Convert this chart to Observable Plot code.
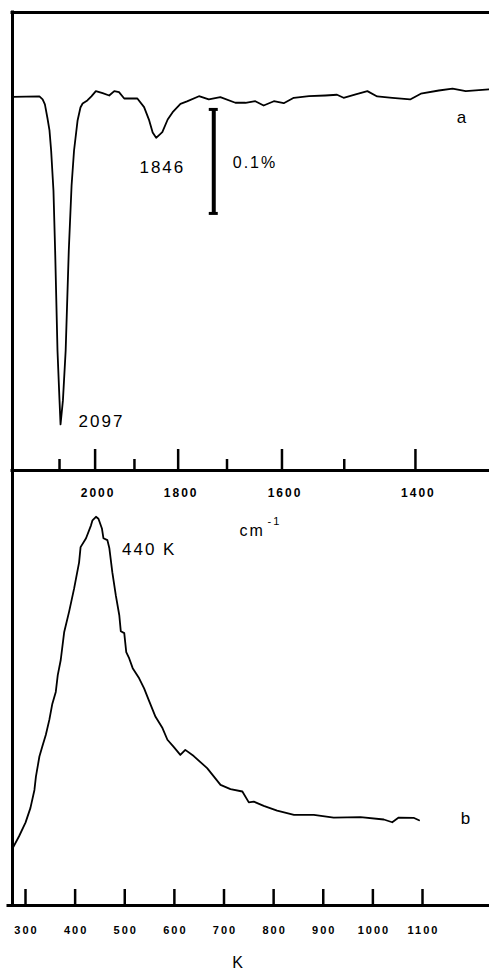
<!DOCTYPE html>
<html>
<head>
<meta charset="utf-8">
<script src="https://cdn.jsdelivr.net/npm/d3@7"></script>
<script src="https://cdn.jsdelivr.net/npm/@observablehq/plot@0.6"></script>
<style>
html, body { margin: 0; padding: 0; background: #fff; }
#wrap { position: relative; width: 489px; height: 969px; overflow: hidden; background: #fff; }
#wrap svg { position: absolute; left: 0; top: 0; }
#wrap text { letter-spacing: 2px; }
</style>
</head>
<body>
<div id="wrap"></div>
<script>
// ---------- Panel a: IR spectrum (cm^-1) ----------
const irWavenumber = [2248, 2161, 2151, 2144, 2136, 2130, 2125, 2118, 2113, 2106, 2100, 2097,
  2090, 2082, 2073, 2065, 2058, 2048, 2040, 2034, 2021, 2010, 1998, 1980, 1963, 1950, 1938,
  1925, 1893, 1877, 1865, 1857, 1849, 1835, 1823, 1812, 1795, 1781, 1756, 1736, 1713, 1684,
  1665, 1647, 1632, 1614, 1597, 1580, 1555, 1529, 1511, 1501, 1483, 1466, 1452, 1431, 1407,
  1393, 1370, 1353, 1337, 1310];
const irSignal = [0.0005, 0.0010, -0.0019, -0.0067, -0.0202, -0.0317, -0.0510, -0.0894, -0.1471,
  -0.2433, -0.2913, -0.3144, -0.2913, -0.2433, -0.1471, -0.0846, -0.0510, -0.0221, -0.0096,
  -0.0058, -0.0029, 0.0010, 0.0061, 0.0041, 0.0019, 0.0061, 0.0051, -0.0010, -0.0010, -0.0093,
  -0.0221, -0.0337, -0.0388, -0.0334, -0.0212, -0.0141, -0.0061, -0.0038, 0.0012, -0.0019,
  0.0003, -0.0051, -0.0051, -0.0036, -0.0077, -0.0036, -0.0055, -0.0003, 0.0012, 0.0019,
  0.0026, -0.0003, 0.0029, 0.0061, 0.0010, -0.0003, -0.0019, 0.0036, 0.0067, 0.0084, 0.0061,
  0.0077];
const irMajorTicks = [2000, 1800, 1600, 1400];
const irMinorTicks = [2100, 1900, 1700, 1500];
const irBandPositions = [2097, 1846];
const irBandLabels = ["2097", "1846"];
const scaleBar = {nu: 1726, top: -0.0115, span: 0.1, label: "0.1%"};

// ---------- Panel b: TPD spectrum (K) ----------
const tpdTemperature = [274, 287, 300, 310, 318, 321, 328, 334, 341, 348, 354, 361, 365, 371,
  378, 388, 398, 408, 411, 422, 432, 435, 442, 447, 454, 457, 465, 469, 475, 482, 489, 492,
  499, 503, 509, 516, 529, 539, 549, 562, 576, 586, 599, 612, 622, 639, 666, 693, 713, 737,
  750, 760, 780, 807, 841, 881, 921, 975, 1022, 1039, 1052, 1083, 1093];
const tpdIntensity = [0.147, 0.178, 0.213, 0.251, 0.297, 0.331, 0.383, 0.409, 0.439, 0.477,
  0.518, 0.549, 0.592, 0.631, 0.703, 0.756, 0.815, 0.882, 0.921, 0.944, 0.977, 0.990, 0.999,
  0.994, 0.969, 0.944, 0.939, 0.918, 0.856, 0.797, 0.746, 0.705, 0.700, 0.651, 0.635, 0.610,
  0.584, 0.558, 0.526, 0.485, 0.456, 0.426, 0.407, 0.387, 0.400, 0.384, 0.353, 0.310, 0.299,
  0.293, 0.265, 0.267, 0.256, 0.244, 0.233, 0.233, 0.226, 0.227, 0.221, 0.214, 0.226, 0.225,
  0.219];
const tpdTicks = [300, 400, 500, 600, 700, 800, 900, 1000, 1100];
const tpdPeakPosition = 440;
const tpdPeakLabel = "440 K";

// ---------- layout ----------
const W = 489, H = 969;
const font = "'Liberation Sans', Arial, Helvetica, sans-serif";
const baseStyle = {fontFamily: font, background: "transparent", overflow: "visible", color: "black"};

const irData = irWavenumber.map((nu, i) => ({nu, t: irSignal[i]}));
const irX = [2248.5, 1309.2];
const irY = [-0.3587, 0.0817];
const nearest = (nu) => irData.reduce((a, b) => Math.abs(b.nu - nu) < Math.abs(a.nu - nu) ? b : a);
const bands = irBandPositions.map((nu, i) => ({nu, t: nearest(nu).t, label: irBandLabels[i]}));

const topPanelTop = 12, topPanelBottom = 470;
const topFrameH = topPanelBottom - topPanelTop;

const plotA = Plot.plot({
  width: W, height: H,
  marginTop: topPanelTop, marginBottom: H - topPanelBottom, marginLeft: 12, marginRight: 0,
  style: baseStyle,
  x: {type: "pow", exponent: -1, domain: irX, axis: null},
  y: {domain: irY, axis: null},
  marks: [
    Plot.ruleY([irY[1]], {strokeWidth: 3, strokeLinecap: "square"}),
    Plot.ruleY([irY[0]], {strokeWidth: 3, strokeLinecap: "square"}),
    Plot.ruleX([irX[0]], {strokeWidth: 3, strokeLinecap: "square"}),
    Plot.ruleX(irMajorTicks, {x: d => d, insetTop: topFrameH - 21, strokeWidth: 2.5}),
    Plot.ruleX(irMinorTicks, {x: d => d, insetTop: topFrameH - 11, strokeWidth: 2.5}),
    Plot.text(irMajorTicks, {x: d => d, frameAnchor: "bottom", lineAnchor: "bottom", dy: 26, dx: 3,
      text: d => String(d), fontSize: 12, fontWeight: "bold"}),
    Plot.line(irData, {x: "nu", y: "t", strokeWidth: 1.8, strokeLinejoin: "round"}),
    Plot.text(bands.slice(0, 1), {x: "nu", y: "t", text: "label", textAnchor: "start", lineAnchor: "bottom",
      dx: 18, dy: 3, fontSize: 17}),
    Plot.text(bands.slice(1), {x: "nu", y: "t", text: "label", textAnchor: "start", lineAnchor: "bottom",
      dx: -18, dy: 35, fontSize: 17}),
    Plot.ruleX([scaleBar], {x: "nu", y1: "top", y2: d => d.top - d.span, strokeWidth: 4}),
    Plot.ruleY([scaleBar.top, scaleBar.top - scaleBar.span], {y: d => d, x1: () => scaleBar.nu, x2: () => scaleBar.nu,
      insetLeft: -4.5, insetRight: -4.5, strokeWidth: 3}),
    Plot.text([scaleBar], {x: "nu", y: d => d.top - d.span / 2, text: "label", textAnchor: "start",
      lineAnchor: "bottom", dx: 19, dy: 7, fontSize: 16}),
    Plot.text(["a"], {frameAnchor: "top-right", textAnchor: "middle", lineAnchor: "bottom", dx: -27, dy: 110, fontSize: 17}),
    Plot.text(["cm"], {frameAnchor: "bottom-left", textAnchor: "start", lineAnchor: "bottom", dx: 227, dy: 65, fontSize: 16}),
    Plot.text(["-1"], {frameAnchor: "bottom-left", textAnchor: "start", lineAnchor: "bottom", dx: 255, dy: 54, fontSize: 11})
  ]
});

const tpdData = tpdTemperature.map((T, i) => ({T, v: tpdIntensity[i]}));
const tpdX = [273.8, 1235];
const tpdY = [0, 1.118];
const peak = {T: tpdPeakPosition, v: d3.max(tpdIntensity), label: tpdPeakLabel};
const botPanelTop = 470, botPanelBottom = 905;
const botFrameH = botPanelBottom - botPanelTop;

const plotB = Plot.plot({
  width: W, height: H,
  marginTop: botPanelTop, marginBottom: H - botPanelBottom, marginLeft: 12, marginRight: 0,
  style: baseStyle,
  x: {domain: tpdX, axis: null},
  y: {domain: tpdY, axis: null},
  marks: [
    Plot.ruleY([tpdY[0]], {strokeWidth: 3, insetLeft: -4, strokeLinecap: "square"}),
    Plot.ruleX([tpdX[0]], {strokeWidth: 3, strokeLinecap: "square"}),
    Plot.ruleX(tpdTicks, {x: d => d, insetTop: botFrameH - 16, strokeWidth: 2.5}),
    Plot.text(tpdTicks, {x: d => d, frameAnchor: "bottom", lineAnchor: "bottom", dy: 28, dx: 1,
      text: d => String(d), fontSize: 11, fontWeight: "bold"}),
    Plot.line(tpdData, {x: "T", y: "v", strokeWidth: 1.8, strokeLinejoin: "round"}),
    Plot.text([peak], {x: "T", y: "v", text: "label", textAnchor: "start", lineAnchor: "bottom",
      dx: 27, dy: 38, fontSize: 17}),
    Plot.text(["b"], {frameAnchor: "bottom-right", textAnchor: "middle", lineAnchor: "bottom", dx: -23, dy: -82, fontSize: 17}),
    Plot.text(["K"], {frameAnchor: "bottom-left", textAnchor: "middle", lineAnchor: "bottom", dx: 226, dy: 62, fontSize: 16})
  ]
});

const wrap = document.getElementById("wrap");
wrap.appendChild(plotA);
wrap.appendChild(plotB);
</script>
</body>
</html>
